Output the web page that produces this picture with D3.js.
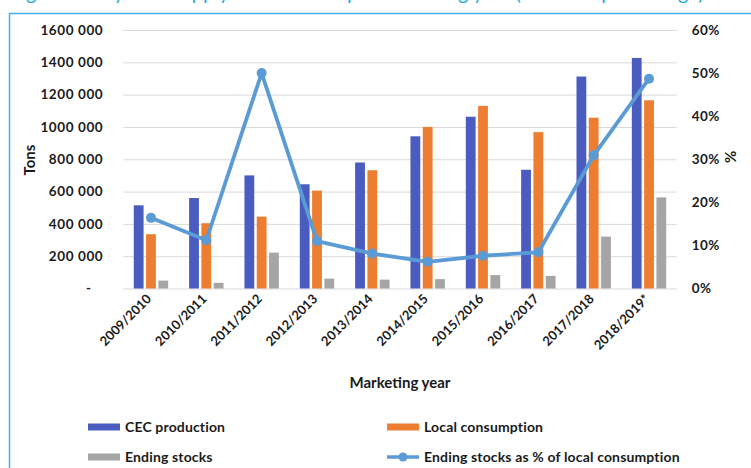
<!DOCTYPE html>
<html>
<head>
<meta charset="utf-8">
<script src="https://cdn.jsdelivr.net/npm/d3@7"></script>
<style>
  html, body { margin: 0; padding: 0; background: #fff; }
  svg { display: block; }
  text { font-family: Lato, "Open Sans", sans-serif; font-weight: 700; fill: #1a1a1a; }
</style>
</head>
<body>
<svg id="chart" width="751" height="468"></svg>
<script>
// Marketing years
const years = ["2009/2010", "2010/2011", "2011/2012", "2012/2013", "2013/2014",
               "2014/2015", "2015/2016", "2016/2017", "2017/2018", "2018/2019*"];
// Tons
const cecProduction    = [515000, 560000, 700000, 645000, 780000, 942000, 1063000, 735000, 1312000, 1427000];
const localConsumption = [336000, 404000, 445000, 606000, 732000, 1000000, 1130000, 968000, 1057000, 1165000];
const endingStocks     = [49000, 35000, 222000, 61000, 55000, 58000, 83000, 78000, 321000, 564000];
// Ending stocks as % of local consumption
const stocksPct = [16.4, 11.2, 50.0, 11.0, 8.1, 6.2, 7.6, 8.4, 30.9, 48.7];
// Axis ticks
const tonTicks = [0, 200000, 400000, 600000, 800000, 1000000, 1200000, 1400000, 1600000];
const pctTicks = [0, 10, 20, 30, 40, 50, 60];

const series = [
  { name: "CEC production", values: cecProduction, color: "#4a5cbf" },
  { name: "Local consumption", values: localConsumption, color: "#ed7d31" },
  { name: "Ending stocks", values: endingStocks, color: "#a5a5a5" }
];
const lineColor = "#5b9bd5";

const svg = d3.select("#chart");

// Frame and heading (heading runs off the top edge)
svg.append("text")
  .attr("x", 10).attr("y", 0)
  .style("font-size", "20px").style("font-weight", 400)
  .style("fill", "#29a9e0")
  .text("Figure 6: Soybean supply and demand per marketing year (tons and percentage)");
svg.append("path")
  .attr("d", "M9.5,480 V13.5 H760")
  .attr("fill", "none").attr("stroke", "#3db3e6").attr("stroke-width", 1.5);

const plotLeft = 123.3, plotRight = 676.7, plotTop = 30, plotBottom = 288.5;

const x = d3.scaleBand().domain(years).range([plotLeft, plotRight]).padding(0);
const y = d3.scaleLinear().domain([0, 1600000]).range([plotBottom, plotTop]);
const y2 = d3.scaleLinear().domain([0, 60]).range([plotBottom, plotTop]);

// Gridlines
svg.append("g")
  .attr("transform", `translate(${plotLeft},0)`)
  .call(d3.axisLeft(y).tickValues(tonTicks).tickSize(-(plotRight - plotLeft)).tickFormat(""))
  .call(g => g.select(".domain").remove())
  .call(g => g.selectAll("line").attr("stroke", "#d9d9d9").attr("stroke-width", 1));

// Left axis labels: "1600 000" style, dash for zero
const fmtTons = v => d3.format(",")(v).replace(/,/g, " ").replace(/^(\d+) (\d{3}) (\d{3})$/, "$1$2 $3");
svg.append("g")
  .attr("transform", `translate(${plotLeft - 20},0)`)
  .call(d3.axisLeft(y).tickValues(tonTicks).tickSize(0).tickPadding(0).tickFormat(v => v === 0 ? "-   " : fmtTons(v)))
  .call(g => g.select(".domain").remove())
  .call(g => g.selectAll("text")
    .style("font-size", "13.5px").style("letter-spacing", "0.6px")
    .style("font-family", "Lato, sans-serif").attr("fill", "#1a1a1a").style("white-space", "pre"));

// Right axis labels
svg.append("g")
  .attr("transform", `translate(${plotRight + 15},0)`)
  .call(d3.axisRight(y2).tickValues(pctTicks).tickSize(0).tickPadding(0).tickFormat(v => v + "%"))
  .call(g => g.select(".domain").remove())
  .call(g => g.selectAll("text")
    .style("font-size", "13.5px").style("letter-spacing", "0.4px")
    .style("font-family", "Lato, sans-serif").attr("fill", "#1a1a1a"));

// Bars
const barW = 9.8, step = 12.3;
series.forEach((s, i) => {
  svg.append("g").selectAll("rect")
    .data(years)
    .join("rect")
    .attr("x", d => x(d) + x.bandwidth() / 2 + (i - 1) * step - barW / 2)
    .attr("width", barW)
    .attr("y", (d, j) => y(s.values[j]))
    .attr("height", (d, j) => plotBottom - y(s.values[j]))
    .attr("fill", s.color);
});

// Line with markers
const line = d3.line()
  .x((d, j) => x(years[j]) + x.bandwidth() / 2)
  .y(d => y2(d));
svg.append("path")
  .datum(stocksPct)
  .attr("d", line)
  .attr("fill", "none")
  .attr("stroke", lineColor)
  .attr("stroke-width", 3.8)
  .attr("stroke-linejoin", "round");
svg.append("g").selectAll("circle")
  .data(stocksPct)
  .join("circle")
  .attr("cx", (d, j) => x(years[j]) + x.bandwidth() / 2)
  .attr("cy", d => y2(d))
  .attr("r", 5)
  .attr("fill", lineColor);

// Category labels, rotated
svg.append("g")
  .attr("transform", `translate(0,${plotBottom + 8})`)
  .call(d3.axisBottom(x).tickSize(0).tickPadding(0))
  .call(g => g.select(".domain").remove())
  .call(g => g.selectAll("text")
    .style("font-size", "13px").style("font-family", "Lato, sans-serif").attr("fill", "#1a1a1a")
    .attr("text-anchor", "end")
    .attr("y", 0)
    .attr("dy", "0.35em")
    .attr("transform", "translate(-2,0) rotate(-45)"));

// Axis titles
svg.append("text")
  .attr("x", 400).attr("y", 388)
  .attr("text-anchor", "middle")
  .style("font-size", "15px")
  .text("Marketing year");
svg.append("text")
  .attr("transform", "translate(35,160) rotate(-90)")
  .attr("text-anchor", "middle")
  .style("font-size", "15px")
  .text("Tons");
svg.append("text")
  .attr("transform", "translate(725,157) rotate(90)")
  .attr("text-anchor", "middle")
  .style("font-size", "15px")
  .text("%");

// Legend
const legend = [
  { label: series[0].name, color: series[0].color, type: "bar", x: 88, y: 427 },
  { label: series[1].name, color: series[1].color, type: "bar", x: 387, y: 427 },
  { label: series[2].name, color: series[2].color, type: "bar", x: 88, y: 457 },
  { label: "Ending stocks as % of local consumption", color: lineColor, type: "line", x: 387, y: 457 }
];
const lg = svg.append("g").selectAll("g").data(legend).join("g")
  .attr("transform", d => `translate(${d.x},${d.y})`);
lg.filter(d => d.type === "bar").append("rect")
  .attr("x", 0).attr("y", -3.5).attr("width", 32).attr("height", 7)
  .attr("fill", d => d.color);
lg.filter(d => d.type === "line").append("line")
  .attr("x1", 0).attr("x2", 32).attr("y1", 0).attr("y2", 0)
  .attr("stroke", d => d.color).attr("stroke-width", 3.5);
lg.filter(d => d.type === "line").append("circle")
  .attr("cx", 16).attr("cy", 0).attr("r", 4.5).attr("fill", d => d.color);
lg.append("text")
  .attr("x", 37).attr("y", 0).attr("dy", "0.35em")
  .style("font-size", "14px").style("letter-spacing", "0.15px")
  .text(d => d.label);
</script>
</body>
</html>
